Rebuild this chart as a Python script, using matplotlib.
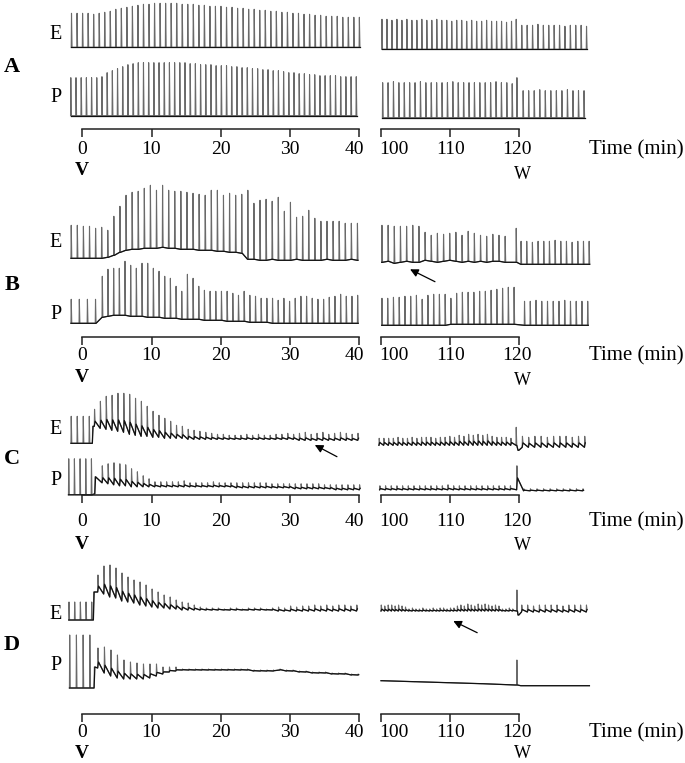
import numpy as np
import matplotlib.pyplot as plt

plt.rcParams['font.family'] = ['Liberation Serif', 'DejaVu Serif']

# heights of each contraction (px above the resting baseline of the trace)
# Panel A
a_e_left_pk = [34, 34, 34, 34, 33, 34, 35, 36, 38, 39, 40, 41, 42, 43, 43, 44, 44, 44, 44, 44,
               43, 43, 43, 42, 42, 41, 41, 41, 40, 40, 39, 39, 38, 38, 37, 37, 36, 36, 35, 35,
               34, 34, 33, 33, 32, 32, 31, 31, 31, 30, 30, 30, 30]
a_p_left_pk = [38, 38, 38, 38, 38, 38, 39, 43, 45, 47, 49, 51, 52, 53, 53, 53, 53, 53, 53, 53,
               53, 53, 53, 52, 52, 51, 51, 51, 50, 50, 50, 49, 49, 48, 48, 47, 47, 46, 46, 45,
               45, 44, 43, 43, 42, 42, 41, 41, 40, 40, 40, 40, 39, 39, 39, 39]
a_e_right_pk = [28, 28, 27, 28, 27, 28, 27, 27, 28, 27, 27, 28, 27, 27, 26, 27, 27, 26, 27, 26,
                26, 27, 26, 26, 26, 25, 26]
a_e_post_pk = [22, 22, 22, 23, 22, 22, 22, 22, 21, 22, 22, 22, 21]
a_p_right_pk = [33, 33, 34, 33, 33, 33, 33, 34, 33, 33, 33, 33, 33, 34, 33, 33, 33, 33, 33, 33,
                33, 34, 33, 33, 32]
a_p_post_pk = [25, 25, 25, 26, 25, 25, 25, 25, 26, 25, 25, 25]

# Panel B
b_e_left_pk = [33, 33, 32, 32, 30, 31, 28, 42, 52, 63, 66, 67, 70, 73, 68, 73, 68, 67, 67, 66,
               65, 64, 63, 68, 68, 63, 65, 63, 64, 68, 55, 58, 59, 57, 61, 47, 56, 41, 42, 48,
               40, 37, 37, 37, 37, 35, 35, 35]
b_e_left_bs = [0, 0, 0, 0, 0, 0, 1, 3, 6, 8, 9, 9, 10, 10, 10, 11, 10, 10, 9, 9,
               9, 8, 8, 8, 7, 7, 6, 6, 5, -1, -1, -2, -2, -1, -2, -2, -2, -1, -2, -2,
               -2, -2, -1, -2, -2, -2, -1, -2]
b_p_left_pre_pk = [24, 24, 24, 24]
b_p_left_pk = [47, 54, 55, 55, 62, 58, 55, 60, 60, 55, 52, 47, 45, 37, 32, 49, 45, 37, 33, 32,
               32, 32, 32, 30, 28, 32, 28, 27, 25, 25, 25, 23, 25, 22, 25, 27, 27, 25, 24, 24,
               26, 27, 29, 27, 27, 28]
b_p_left_bs = [6, 7, 8, 8, 8, 7, 7, 7, 6, 6, 6, 5, 5, 5, 4, 4, 4, 4, 3, 3,
               3, 3, 2, 2, 2, 2, 1, 1, 1, 1, 0, 0, 0, 0, 0, 0, 0, 0, 0, 0,
               0, 0, 0, 0, 0, 0]
b_e_right_pk = [33, 33, 32, 32, 32, 33, 32, 26, 23, 25, 24, 25, 26, 23, 27, 25, 23, 22, 24, 23, 22]
b_e_right_bs = [-4, -3, -5, -4, -3, -4, -4, -2, -3, -4, -3, -2, -3, -4, -3, -4, -3, -4, -3, -3, -4]
b_e_post_pk = [17, 17, 16, 17, 17, 17, 18, 17, 17, 16, 17, 17, 17]
b_p_right_pk = [25, 25, 26, 26, 27, 27, 28, 24, 28, 29, 29, 29, 25, 30, 31, 31, 31, 32, 32, 33,
                34, 35, 36, 36]
b_p_right_bs = [-2, -2, -2, -2, -2, -2, -2, -2, -2, -2, -2, -2,
                -1, -1, -1, -1, -1, -1, -1, -1, -1, -1, -1, -1]
b_p_post_pk = [22, 22, 23, 22, 22, 22, 22, 23, 22, 22, 22, 22]

# Panel C
c_e_left_pre_pk = [27, 27, 27, 27]
c_e_left_pk = [34, 42, 47, 48, 50, 50, 49, 45, 42, 37, 32, 28, 25, 22, 18, 17, 14, 13, 12, 11,
               10, 9, 9, 8, 8, 8, 9, 8, 9, 8, 8, 9, 9, 10, 9, 10, 11, 9, 10, 11,
               9, 10, 11, 10, 9, 10]
c_e_left_bs = [17, 15, 14, 13, 12, 11, 9, 8, 7, 7, 6, 6, 5, 5, 5, 5, 4, 4, 4, 4,
               4, 4, 4, 4, 4, 4, 4, 4, 4, 4, 4, 4, 4, 4, 4, 3, 3, 3, 3, 3,
               3, 3, 3, 3, 3, 3]
c_p_left_pre_pk = [36, 36, 36, 36, 36]
c_p_left_pk = [29, 31, 32, 31, 30, 26, 23, 19, 16, 13, 13, 13, 13, 13, 14, 12, 12, 12, 12, 13,
               12, 12, 12, 12, 12, 12, 12, 12, 12, 11, 11, 11, 11, 11, 11, 11, 11, 11, 10, 10,
               10, 10, 10, 10, 10]
c_p_left_bs = [12, 11, 10, 9, 9, 8, 8, 8, 8, 8, 8, 8, 8, 8, 8, 8, 8, 8, 8, 8,
               8, 8, 8, 7, 7, 7, 7, 7, 7, 7, 7, 7, 7, 6, 6, 6, 6, 6, 6, 6,
               5, 5, 5, 5, 5]
c_e_right_pk = [5, 5, 5, 5, 6, 5, 5, 6, 5, 6, 6, 6, 5, 6, 6, 7, 6, 8, 7, 9,
                8, 9, 8, 9, 7, 6, 6, 6, 5]
c_e_post_pk = [7, 6, 7, 7, 6, 7, 7, 7, 6, 7, 7]
c_p_right_pk = [9, 9, 9, 9, 9, 9, 9, 9, 9, 9, 9, 9, 10, 9, 9, 9, 9, 9, 9, 9, 9, 9, 9, 9]
c_p_post_pk = [6, 6, 6, 6, 6, 6, 6, 6, 6, 6]

# Panel D
d_e_left_pre_pk = [18, 18, 18, 18, 18]
d_e_left_pk = [45, 54, 55, 52, 47, 43, 40, 38, 35, 31, 28, 25, 23, 20, 18, 17, 15, 13, 12, 12,
               12, 11, 12, 12, 11, 12, 12, 12, 11, 12, 13, 12, 14, 13, 14, 14, 15, 14, 15, 14,
               15, 15, 14, 15]
d_e_left_bs = [28, 26, 23, 22, 19, 18, 17, 15, 14, 13, 12, 12, 11, 11, 10, 10, 10, 10, 10, 10,
               10, 10, 10, 10, 10, 10, 10, 10, 10, 10, 9, 9, 9, 9, 9, 9, 9, 9, 9, 9,
               9, 9, 9, 9]
d_p_left_pre_pk = [53, 53, 53, 53]
d_p_left_pk = [40, 41, 38, 33, 28, 26, 25, 24, 24, 24, 21, 21, 21, 19, 19, 19, 19, 19, 19, 19,
               19, 19, 19, 19, 18, 18, 18, 18, 19, 18, 18, 17, 17, 16, 16, 16, 15, 15, 15, 14, 14]
d_p_left_bs = [20, 15, 12, 10, 9, 9, 9, 9, 10, 12, 14, 16, 17, 18, 18, 18, 18, 18, 18, 18,
               18, 18, 18, 18, 17, 17, 17, 17, 18, 17, 17, 16, 16, 15, 15, 15, 14, 14, 14, 13, 13]
d_e_right_pk = [15, 14, 15, 15, 14, 15, 14, 13, 11, 12, 11, 11, 12, 11, 11, 12, 11, 12, 12, 11,
                12, 12, 14, 15, 14, 16, 15, 14, 16, 15, 16, 15, 14, 15, 14, 11, 11, 12, 11]
d_e_post_pk = [15, 15, 14, 15, 15, 15, 15, 14, 15, 15, 15, 15]
d_p_right_bs = [7.3, 6.3, 5.3, 4.3, 3.0]
d_p_post_bs = [2.3, 2.3, 2.3]

# wash-out (W) artefact heights
w_art = {'A': (28, 38), 'B': (30, None), 'C': (16, 29), 'D': (30, 28)}

left_ticks = [0, 10, 20, 30, 40]
right_ticks = [100, 110, 120]

# groups: (first time, interval, peaks, troughs, fall fraction)
traces = {
    'A': dict(
        el=[(-1.6, 0.8, a_e_left_pk, 0, 0)],
        pl=[(-1.7, 0.75, a_p_left_pk, 0, 0)],
        er=[(100.1, 0.72, a_e_right_pk, -2, 0), (119.5, 1, [w_art['A'][0]], -2, 0),
            (120.3, 0.78, a_e_post_pk, -2, 0)],
        pr=[(100.2, 0.78, a_p_right_pk, -2, 0), (119.6, 1, [w_art['A'][1]], -2, 0),
            (120.5, 0.8, a_p_post_pk, -2, 0)]),
    'B': dict(
        el=[(-1.64, 0.88, b_e_left_pk, b_e_left_bs, 0)],
        pl=[(-1.64, 1.17, b_p_left_pre_pk, 0, 0), (2.85, 0.82, b_p_left_pk, b_p_left_bs, 0)],
        er=[(100.1, 0.89, b_e_right_pk, b_e_right_bs, 0), (119.5, 1, [w_art['B'][0]], -4, 0),
            (120.2, 0.82, b_e_post_pk, -6, 0)],
        pr=[(100.1, 0.83, b_p_right_pk, b_p_right_bs, 0), (120.7, 0.83, b_p_post_pk, -2, 0)]),
    'C': dict(
        el=[(-1.64, 0.87, c_e_left_pre_pk, 0, 0), (1.45, 1, [17], 0, 1),
            (1.73, 0.846, c_e_left_pk, c_e_left_bs, 0.3)],
        pl=[(-2.0, 0.82, c_p_left_pre_pk, 0, 0), (1.8, 1, [18], 1, 1),
            (2.85, 0.845, c_p_left_pk, c_p_left_bs, 0.3)],
        er=[(99.7, 0.68, c_e_right_pk, -2, 0.4), (119.5, 1, [w_art['C'][0]], -2, 0),
            (119.8, 1, [-7], -7, 0), (120.4, 0.9, c_e_post_pk, -4, 0.4)],
        pr=[(99.8, 0.82, c_p_right_pk, 5, 0.3), (119.6, 1, [w_art['C'][1]], 5, 0.5),
            (120.6, 0.95, c_p_post_pk, 4, 0.3)]),
    'D': dict(
        el=[(-1.96, 0.82, d_e_left_pre_pk, 0, 0), (1.6, 1, [28], 0, 1),
            (2.22, 0.87, d_e_left_pk, d_e_left_bs, 0.35)],
        pl=[(-1.86, 0.97, d_p_left_pre_pk, 0, 0), (1.7, 1, [21], 0, 1),
            (2.22, 0.94, d_p_left_pk, d_p_left_bs, 0.3)],
        er=[(100.0, 0.5, d_e_right_pk, 9, 0.3), (119.6, 1, [w_art['D'][0]], 9, 0),
            (119.8, 1, [5], 5, 0), (120.3, 0.85, d_e_post_pk, 8, 0.35)],
        pr=[(100.0, 4.85, d_p_right_bs, d_p_right_bs, 0), (119.6, 1, [w_art['D'][1]], 3, 0),
            (120.2, 4.9, d_p_post_bs, d_p_post_bs, 0)]),
}

# layout (pixels)
W_PX, H_PX = 685, 763
PX_MIN = 6.92
panels = ['A', 'B', 'C', 'D']
axis_y = [129.3, 337.3, 495.3, 714]
e_off = [82, 79, 52, 94]
p_off = [13.6, 14, 0.5, 26]
lab_dy = [17.7, 15.7, 24.5, 16.5]
v_dy = [38.7, 37.7, 47.5, 37.5]
w_dy = [42.7, 41, 48, 38]
letter_y = [64, 283, 456, 643]
e_y = [32, 240, 427, 612]
p_y = [95, 312, 478, 663]
left_lab_shift = [0, 0, 0, 0, -0.7]
right_lab_shift = [1.9, 0, -0.3]
arrows = {'B': ('r', (104.2, 68), (107.8, 55.6)),
          'C': ('l', (33.6, 50.3), (36.8, 38.6)),
          'D': ('r', (110.45, 93), (113.9, 81.3))}


def spikes(t0, dt, pk, bs, frac):
    pk = np.asarray(pk, float)
    bs = np.broadcast_to(np.asarray(bs, float), pk.shape)
    t = t0 + dt * np.arange(len(pk))
    fall = bs + frac * (pk - bs)
    xs = np.column_stack([t, t + 0.04, t + 0.12]).ravel()
    ys = np.column_stack([bs, pk, fall]).ravel()
    bx = np.column_stack([t, t + 0.12]).ravel()
    by = np.column_stack([bs, fall]).ravel()
    return xs, ys, bx, by


def draw(ax, groups, off):
    parts = [spikes(*g) for g in groups]
    xs, ys, bx, by = [np.concatenate([p[k] for p in parts]) for k in range(4)]
    ax.plot(xs, ys + off, color='#6a6a6a', lw=0.8)
    ax.plot(bx, by + off, color='#111111', lw=0.9)


def fpos(x, y):
    return x / W_PX, 1 - y / H_PX


fig = plt.figure(figsize=(6.85, 7.63), dpi=100)


def seg_axes(x0, t_ref, lo, hi, ay, ticks):
    left = x0 + PX_MIN * (lo - t_ref)
    ax = fig.add_axes([left / W_PX, 1 - (ay + 30) / H_PX,
                       PX_MIN * (hi - lo) / W_PX, 200 / H_PX])
    ax.set_xlim(lo, hi)
    ax.set_ylim(-30, 170)
    ax.patch.set_visible(False)
    for s in ('top', 'right', 'left'):
        ax.spines[s].set_visible(False)
    ax.spines['bottom'].set_position(('data', 0))
    ax.spines['bottom'].set_bounds(ticks[0], ticks[-1])
    ax.spines['bottom'].set_linewidth(1.1)
    ax.spines['bottom'].set_color('#222222')
    ax.set_yticks([])
    ax.set_xticks(ticks)
    ax.tick_params(axis='x', direction='out', length=5.5, width=1.1, color='#222222',
                   labelbottom=False)
    return ax


for i, name in enumerate(panels):
    ay = axis_y[i]
    axl = seg_axes(82.3, 0, -2.5, 41, ay, left_ticks)
    axr = seg_axes(381.0, 100, 99, 131, ay, right_ticks)
    tr = traces[name]
    draw(axl, tr['el'], e_off[i])
    draw(axl, tr['pl'], p_off[i])
    draw(axr, tr['er'], e_off[i])
    draw(axr, tr['pr'], p_off[i])

    for ax, ticks, shift in ((axl, left_ticks, left_lab_shift),
                             (axr, right_ticks, right_lab_shift)):
        for t, s in zip(ticks, shift):
            ax.text(t + s, -lab_dy[i], str(t), ha='center', va='center_baseline',
                    fontsize=14, clip_on=False)
    axl.text(0, -v_dy[i], 'V', ha='center', va='center_baseline', fontsize=14,
             fontweight='bold', clip_on=False)
    axr.text(120.4, -w_dy[i], 'W', ha='center', va='center_baseline', fontsize=13,
             clip_on=False)
    fig.text(*fpos(684, ay + lab_dy[i]), 'Time (min)', ha='right', va='center_baseline',
             fontsize=15)

    fig.text(*fpos(12, letter_y[i]), name, ha='center', va='center_baseline',
             fontsize=16, fontweight='bold')
    fig.text(*fpos(56, e_y[i]), 'E', ha='center', va='center_baseline', fontsize=14.5)
    fig.text(*fpos(56, p_y[i]), 'P', ha='center', va='center_baseline', fontsize=14.5)

    if name in arrows:
        side, head, tail = arrows[name]
        ax = axr if side == 'r' else axl
        ax.annotate('', xy=head, xytext=tail,
                    arrowprops=dict(arrowstyle='-|>', color='k', lw=0.9,
                                    mutation_scale=12, shrinkA=0, shrinkB=0))

fig.savefig('out.png', dpi=100)
